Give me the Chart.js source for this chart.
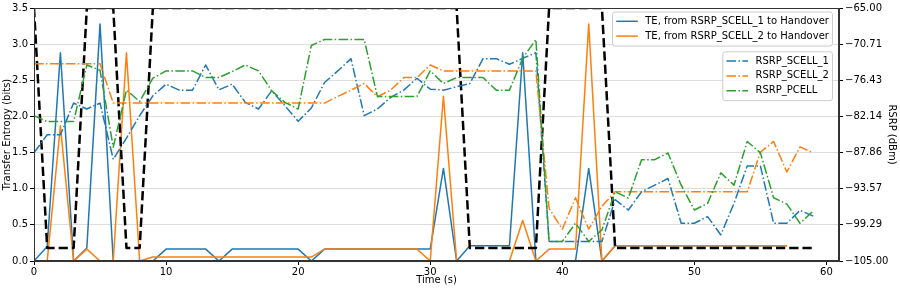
<!DOCTYPE html>
<html>
<head>
<meta charset="utf-8">
<script src="https://cdn.jsdelivr.net/npm/chart.js@4.4.1/dist/chart.umd.min.js"></script>
<style>
html,body{margin:0;padding:0;background:#fff}
#wrap{width:900px;height:289px;position:relative}
</style>
</head>
<body>
<div id="wrap"><canvas id="teChart"></canvas></div>
<script>
// time axis (s)
const timeSec = [0,1,2,3,4,5,6,7,8,9,10,11,12,13,14,15,16,17,18,19,
  20,21,22,23,24,25,26,27,28,29,30,31,32,33,34,35,36,37,38,39,
  40,41,42,43,44,45,46,47,48,49,50,51,52,53,54,55,56,57,58,59]

// transfer entropy (bits), t = 0..57
const teScell1 = [0,0.2,2.88,0,0.18,3.28,0,0,0,0,
  0.165,0.165,0.165,0.165,0,0.165,0.165,0.165,0.165,0.165,
  0.165,0,0.165,0.165,0.165,0.165,0.165,0.165,0.165,0.165,
  0.165,1.28,0,0.21,0.21,0.21,0.21,2.88,0,0,
  0,0,1.28,0,0.21,0.21,0.21,0.21,0.21,0.21,
  0.21,0.21,0.21,0.21,0.21,0.21,0.21,0.21]
const teScell2 = [0,0,1.87,0,0.165,0,0,2.88,0,0.055,
  0.055,0.055,0.055,0.055,0.055,0.055,0.055,0.055,0.055,0.055,
  0.055,0.055,0.165,0.165,0.165,0.165,0.165,0.165,0.165,0.165,
  0,2.28,0,0,0,0,0,0.56,0,0.165,
  0.165,0.165,3.28,0,0.21,0.21,0.21,0.21,0.21,0.21,
  0.21,0.21,0.21,0.21,0.21,0.21,0.21,0.21]

// handover indicator (drawn on TE axis)
const handover = [3.5,0.18,0.18,0.18,3.5,3.5,3.5,0.18,0.18,3.5,
  3.5,3.5,3.5,3.5,3.5,3.5,3.5,3.5,3.5,3.5,
  3.5,3.5,3.5,3.5,3.5,3.5,3.5,3.5,3.5,3.5,
  3.5,3.5,3.5,0.18,0.18,0.18,0.18,0.18,0.18,3.5,
  3.5,3.5,3.5,3.5,0.18,0.18,0.18,0.18,0.18,0.18,
  0.18,0.18,0.18,0.18,0.18,0.18,0.18,0.18,0.18,0.18]

// RSRP (dBm)
const rsrpScell1 = [-87.88,-85.05,-85.05,-80.03,-80.97,-80.03,-88.93,-85.58,-82.02,-78.88,
  -77.04,-77.99,-77.99,-74.01,-77.93,-77.04,-79.92,-80.97,-78.09,-80.45,
  -82.91,-80.81,-76.78,-74.95,-73.01,-82.02,-80.97,-79.14,-77.99,-76.10,
  -77.83,-77.99,-77.46,-76.94,-73.01,-73.01,-73.90,-72.96,-72.07,-101.91,
  -101.91,-101.91,-101.91,-101.91,-95.3,-96.94,-94.06,-93.01,-91.96,-99.03,
  -99.03,-97.98,-100.86,-95.89,-89.97,-89.97,-99.03,-99.03,-97.0,-97.9]
const rsrpScell2 = [-73.8,-73.8,-73.8,-73.8,-73.8,-73.8,-80.03,-80.03,-80.03,-80.03,
  -80.03,-80.03,-80.03,-80.03,-80.03,-80.03,-80.03,-80.03,-80.03,-80.03,
  -80.03,-80.03,-80.03,-78.98,-77.99,-76.94,-79.03,-77.99,-76.0,-76.0,
  -74.01,-74.95,-74.95,-74.95,-74.95,-74.95,-74.95,-74.95,-74.95,-96.68,
  -99.97,-95.0,-99.97,-96.31,-94.06,-94.06,-94.06,-94.06,-94.06,-94.06,
  -94.06,-94.06,-94.06,-94.06,-94.06,-87.78,-86.1,-90.92,-86.95,-87.9]
const rsrpPcell = [-82.02,-82.96,-82.96,-82.96,-74.01,-74.85,-86.99,-77.99,-79.77,-76.10,
  -74.95,-74.95,-74.95,-76.0,-76.0,-75.05,-74.01,-74.95,-78.09,-79.92,
  -80.97,-70.92,-69.98,-69.98,-69.98,-69.98,-78.98,-78.98,-78.98,-78.98,
  -74.95,-76.94,-76.0,-76.0,-76.0,-77.99,-77.99,-72.96,-69.98,-101.91,
  -101.91,-99.03,-101.91,-100.08,-94.06,-95.05,-88.98,-88.98,-87.93,-93.01,
  -96.94,-95.89,-91.07,-93.01,-86.1,-87.9,-95.0,-96.0,-99.03,-97.07]

const xTicks = [0,10,20,30,40,50,60]
const teTicks = [0,0.5,1,1.5,2,2.5,3,3.5]
const rsrpTicks = [-105,-99.2857,-93.5714,-87.8571,-82.1429,-76.4286,-70.7143,-65]

const pts = ys => ys.map((v,i) => ({x: timeSec[i], y: v}))
const dashDot = [9.6,2.4,1.5,2.4]

Chart.defaults.font.family = '"DejaVu Sans", sans-serif'
Chart.defaults.font.size = 10
Chart.defaults.color = '#000'

// matplotlib style: two legend boxes + full frame
const legendGroups = [
  ['TE, from RSRP_SCELL_1 to Handover','TE, from RSRP_SCELL_2 to Handover'],
  ['RSRP_SCELL_1','RSRP_SCELL_2','RSRP_PCELL']
]
const mplFrame = {
  id: 'mplFrame',
  afterDatasetsDraw(chart) {
    const ctx = chart.ctx, a = chart.chartArea
    ctx.save()
    ctx.strokeStyle = '#333'
    ctx.lineWidth = 1
    ctx.strokeRect(Math.round(a.left)+0.5, Math.round(a.top)+0.5,
      Math.round(a.right-a.left)-1, Math.round(a.bottom-a.top)-1)
    ctx.restore()
  },
  afterDraw(chart) {
    const ctx = chart.ctx, a = chart.chartArea
    ctx.save()
    ctx.font = '10px "DejaVu Sans"'
    let top = a.top + 4
    legendGroups.forEach((labels, gi) => {
      if (gi > 0) top += 5.7
      const sets = labels.map(l => chart.data.datasets.find(d => d.label === l))
      const textW = Math.max(...labels.map(l => ctx.measureText(l).width))
      const w = 3.7 + 21.6 + 7.4 + textW + 3.6
      const h = 9.3 + 14.8*(sets.length-1) + 10
      const left = a.right - 6.5 - w
      ctx.beginPath()
      ctx.roundRect(left, top, w, h, 2.5)
      ctx.fillStyle = 'rgba(255,255,255,0.8)'
      ctx.fill()
      ctx.strokeStyle = '#cccccc'
      ctx.lineWidth = 1
      ctx.stroke()
      sets.forEach((d, i) => {
        const y = top + 9.3 + i*14.8
        ctx.beginPath()
        ctx.setLineDash(d.borderDash || [])
        ctx.strokeStyle = d.borderColor
        ctx.lineWidth = d.borderWidth
        ctx.moveTo(left+3.7, y)
        ctx.lineTo(left+3.7+21.6, y)
        ctx.stroke()
        ctx.setLineDash([])
        ctx.fillStyle = '#000'
        ctx.textBaseline = 'middle'
        ctx.textAlign = 'left'
        ctx.fillText(d.label, left+3.7+21.6+7.4, y)
      })
      top += h
    })
    ctx.restore()
  }
}

let teChart = document.getElementById('teChart').getContext('2d')
let chart = new Chart(teChart, {
  type: 'line',
  data: {
    datasets: [
      {label: 'TE, from RSRP_SCELL_1 to Handover', data: pts(teScell1), yAxisID: 'y',
        borderColor: '#1f77b4', borderWidth: 1.5, order: 6},
      {label: 'TE, from RSRP_SCELL_2 to Handover', data: pts(teScell2), yAxisID: 'y',
        borderColor: '#ff7f0e', borderWidth: 1.5, order: 5},
      {label: 'Handover', data: pts(handover), yAxisID: 'y',
        borderColor: '#000', borderWidth: 2.5, borderDash: [9.25,4], order: 4},
      {label: 'RSRP_SCELL_1', data: pts(rsrpScell1), yAxisID: 'y2',
        borderColor: '#1f77b4', borderWidth: 1.5, borderDash: dashDot, order: 3},
      {label: 'RSRP_SCELL_2', data: pts(rsrpScell2), yAxisID: 'y2',
        borderColor: '#ff7f0e', borderWidth: 1.5, borderDash: dashDot, order: 2},
      {label: 'RSRP_PCELL', data: pts(rsrpPcell), yAxisID: 'y2',
        borderColor: '#2ca02c', borderWidth: 1.5, borderDash: dashDot, order: 1}
    ]
  },
  options: {
    responsive: true,
    maintainAspectRatio: false,
    animation: false,
    events: [],
    layout: {padding: {top: 6, left: 0, right: 0, bottom: 0}},
    elements: {
      point: {radius: 0},
      line: {tension: 0, fill: false, borderJoinStyle: 'round'}
    },
    plugins: {legend: {display: false}, tooltip: {enabled: false}},
    scales: {
      x: {
        type: 'linear', min: 0, max: 60.95,
        afterBuildTicks: s => { s.ticks = xTicks.map(v => ({value: v})) },
        afterFit: s => { s.height = 28 },
        grid: {drawOnChartArea: false, tickLength: 4, tickColor: '#000'},
        border: {color: '#333'},
        ticks: {padding: 1, autoSkip: false, maxRotation: 0},
        title: {display: true, text: 'Time (s)', padding: {top: 0, bottom: 3}}
      },
      y: {
        position: 'left', min: 0, max: 3.5,
        afterBuildTicks: s => { s.ticks = teTicks.map(v => ({value: v})) },
        afterFit: s => { s.width = 34 },
        grid: {color: '#dddddd', tickLength: 4, tickColor: '#000'},
        border: {color: '#333'},
        ticks: {padding: 2, callback: v => v.toFixed(1)},
        title: {display: true, text: 'Transfer Entropy (bits)', padding: {top: 1, bottom: 0}}
      },
      y2: {
        position: 'right', min: -105, max: -65,
        afterBuildTicks: s => { s.ticks = rsrpTicks.map(v => ({value: v})) },
        afterFit: s => { s.width = 61 },
        grid: {drawOnChartArea: false, tickLength: 4, tickColor: '#000'},
        border: {color: '#333'},
        ticks: {padding: 2, callback: v => '\u2212' + Math.abs(v).toFixed(2)},
        title: {display: true, text: 'RSRP (dBm)', padding: {top: 2, bottom: 0}}
      }
    }
  },
  plugins: [mplFrame]
})
</script>
</body>
</html>
